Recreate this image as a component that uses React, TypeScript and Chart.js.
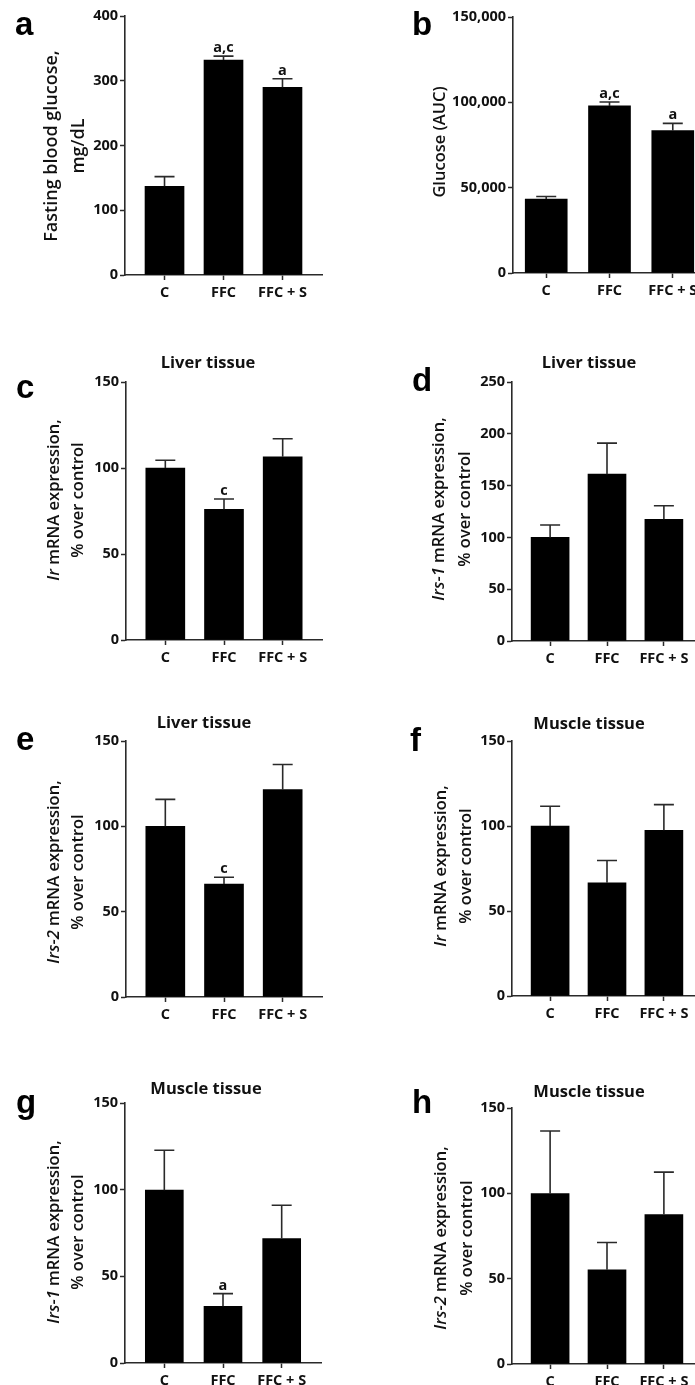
import React, { useEffect, useRef } from 'react';
import { Chart, registerables } from 'chart.js';

Chart.register(...registerables);

// ---------- data ----------
const categories = ['C', 'FFC', 'FFC + S'];

const aValues = [137, 332, 290];
const aErrors = [15, 6, 13];
const aNotes = ['', 'a,c', 'a'];

const bValues = [43300, 97900, 83400];
const bErrors = [1500, 2300, 4300];
const bNotes = ['', 'a,c', 'a'];

const cValues = [100, 76, 106.5];
const cErrors = [4.5, 6, 10.5];
const cNotes = ['', 'c', ''];

const dValues = [100, 161, 117.5];
const dErrors = [12, 30, 13];
const dNotes = ['', '', ''];

const eValues = [100, 66.2, 121.5];
const eErrors = [15.8, 4, 14.7];
const eNotes = ['', 'c', ''];

const fValues = [100, 66.6, 97.5];
const fErrors = [11.6, 13.1, 15.1];
const fNotes = ['', '', ''];

const gValues = [99.7, 32.7, 71.8];
const gErrors = [23, 7.3, 19.2];
const gNotes = ['', 'a', ''];

const hValues = [99.8, 55.2, 87.6];
const hErrors = [36.7, 16, 24.8];
const hNotes = ['', '', ''];

// ---------- layout / style ----------
type Seg = { t: string; i?: boolean };
interface PanelSpec {
  letter: string;
  letterX: number;
  letterY: number;
  title?: string;
  titleX?: number;
  titleY?: number;
  yTitle: Seg[][];
  yTitleX: number[];
  yTitleY: number;
  yTitleSize: number;
  values: number[];
  errors: number[];
  notes: string[];
  yMax: number;
  yStep: number;
  comma?: boolean;
  canvas: { x: number; y: number; w: number; h: number };
  area: { l: number; t: number; r: number; b: number };
  xMin: number;
  xMax: number;
  barW: number;
}

const exprLine2: Seg[] = [{ t: '% over control' }];

const panels: PanelSpec[] = [
  {
    letter: 'a', letterX: 15, letterY: 35,
    yTitle: [[{ t: 'Fasting blood glucose,' }], [{ t: 'mg/dL' }]],
    yTitleX: [52, 79], yTitleY: 146, yTitleSize: 18,
    values: aValues, errors: aErrors, notes: aNotes,
    yMax: 400, yStep: 100,
    canvas: { x: 0, y: 0, w: 347, h: 320 },
    area: { l: 125, t: 16, r: 322, b: 275 },
    xMin: 0.33, xMax: 3.67, barW: 39,
  },
  {
    letter: 'b', letterX: 412, letterY: 35,
    yTitle: [[{ t: 'Glucose (AUC)' }]],
    yTitleX: [440], yTitleY: 142, yTitleSize: 16.5,
    values: bValues, errors: bErrors, notes: bNotes,
    yMax: 150000, yStep: 50000, comma: true,
    canvas: { x: 347, y: 0, w: 365, h: 320 },
    area: { l: 513, t: 17, r: 706, b: 273 },
    xMin: 0.475, xMax: 3.525, barW: 42,
  },
  {
    letter: 'c', letterX: 16, letterY: 398,
    title: 'Liver tissue', titleX: 208, titleY: 368,
    yTitle: [[{ t: 'Ir', i: true }, { t: ' mRNA expression,' }], exprLine2],
    yTitleX: [54, 78], yTitleY: 500, yTitleSize: 16.5,
    values: cValues, errors: cErrors, notes: cNotes,
    yMax: 150, yStep: 50,
    canvas: { x: 0, y: 320, w: 347, h: 360 },
    area: { l: 126, t: 382, r: 322, b: 640 },
    xMin: 0.33, xMax: 3.67, barW: 39,
  },
  {
    letter: 'd', letterX: 412, letterY: 391,
    title: 'Liver tissue', titleX: 589, titleY: 368,
    yTitle: [[{ t: 'Irs-1', i: true }, { t: ' mRNA expression,' }], exprLine2],
    yTitleX: [439, 465], yTitleY: 509, yTitleSize: 16.5,
    values: dValues, errors: dErrors, notes: dNotes,
    yMax: 250, yStep: 50,
    canvas: { x: 347, y: 320, w: 365, h: 360 },
    area: { l: 512, t: 382, r: 702, b: 641 },
    xMin: 0.33, xMax: 3.67, barW: 38,
  },
  {
    letter: 'e', letterX: 16, letterY: 750,
    title: 'Liver tissue', titleX: 204, titleY: 728,
    yTitle: [[{ t: 'Irs-2', i: true }, { t: ' mRNA expression,' }], exprLine2],
    yTitleX: [54, 78], yTitleY: 872, yTitleSize: 16.5,
    values: eValues, errors: eErrors, notes: eNotes,
    yMax: 150, yStep: 50,
    canvas: { x: 0, y: 680, w: 347, h: 360 },
    area: { l: 126, t: 741, r: 322, b: 997 },
    xMin: 0.33, xMax: 3.67, barW: 39,
  },
  {
    letter: 'f', letterX: 410, letterY: 751,
    title: 'Muscle tissue', titleX: 589, titleY: 729,
    yTitle: [[{ t: 'Ir', i: true }, { t: ' mRNA expression,' }], exprLine2],
    yTitleX: [441, 466], yTitleY: 866, yTitleSize: 16.5,
    values: fValues, errors: fErrors, notes: fNotes,
    yMax: 150, yStep: 50,
    canvas: { x: 347, y: 680, w: 365, h: 360 },
    area: { l: 512, t: 741, r: 702, b: 996 },
    xMin: 0.33, xMax: 3.67, barW: 38,
  },
  {
    letter: 'g', letterX: 16, letterY: 1113,
    title: 'Muscle tissue', titleX: 206, titleY: 1094,
    yTitle: [[{ t: 'Irs-1', i: true }, { t: ' mRNA expression,' }], exprLine2],
    yTitleX: [54, 78], yTitleY: 1232, yTitleSize: 16.5,
    values: gValues, errors: gErrors, notes: gNotes,
    yMax: 150, yStep: 50,
    canvas: { x: 0, y: 1040, w: 347, h: 360 },
    area: { l: 125, t: 1103, r: 321, b: 1363 },
    xMin: 0.33, xMax: 3.67, barW: 38,
  },
  {
    letter: 'h', letterX: 412, letterY: 1113,
    title: 'Muscle tissue', titleX: 589, titleY: 1097,
    yTitle: [[{ t: 'Irs-2', i: true }, { t: ' mRNA expression,' }], exprLine2],
    yTitleX: [441, 467], yTitleY: 1238, yTitleSize: 16.5,
    values: hValues, errors: hErrors, notes: hNotes,
    yMax: 150, yStep: 50,
    canvas: { x: 347, y: 1040, w: 365, h: 360 },
    area: { l: 512, t: 1108, r: 702, b: 1364 },
    xMin: 0.33, xMax: 3.67, barW: 38,
  },
];

const FONT = '"Open Sans", "Noto Sans", sans-serif';
const TEXT = '#111';
const AXIS = '#2a2a2a';
const YW = 70;
const XH = 30;
const CAP = 20;

function Panel({ spec }: { spec: PanelSpec }) {
  const ref = useRef<HTMLCanvasElement>(null);

  useEffect(() => {
    const s = spec;
    const ox = s.canvas.x;
    const oy = s.canvas.y;

    const decor = {
      id: 'decor',
      afterDatasetsDraw(chart: any) {
        const ctx: CanvasRenderingContext2D = chart.ctx;
        const meta = chart.getDatasetMeta(0);
        const ys = chart.scales.y;
        ctx.save();
        // error bars + annotations
        ctx.strokeStyle = AXIS;
        ctx.lineWidth = 1.6;
        meta.data.forEach((bar: any, i: number) => {
          const x = bar.x;
          const top = ys.getPixelForValue(s.values[i]);
          const et = ys.getPixelForValue(s.values[i] + s.errors[i]);
          ctx.beginPath();
          ctx.moveTo(x, top);
          ctx.lineTo(x, et);
          ctx.moveTo(x - CAP / 2, et);
          ctx.lineTo(x + CAP / 2, et);
          ctx.stroke();
          if (s.notes[i]) {
            ctx.fillStyle = TEXT;
            ctx.font = `bold 14.5px ${FONT}`;
            ctx.textAlign = 'center';
            ctx.textBaseline = 'alphabetic';
            ctx.fillText(s.notes[i], x, et - 4);
          }
        });
        // panel letter
        ctx.fillStyle = '#000';
        ctx.font = 'bold 33px "Liberation Sans", Arial, sans-serif';
        ctx.textAlign = 'left';
        ctx.textBaseline = 'alphabetic';
        ctx.fillText(s.letter, s.letterX - ox, s.letterY - oy);
        // title
        if (s.title) {
          ctx.fillStyle = TEXT;
          ctx.font = `bold 16.5px ${FONT}`;
          ctx.textAlign = 'center';
          ctx.fillText(s.title, (s.titleX as number) - ox, (s.titleY as number) - oy);
        }
        // y titles
        s.yTitle.forEach((line, li) => {
          const fontFor = (seg: Seg) =>
            `${seg.i ? 'italic ' : ''}600 ${s.yTitleSize}px ${FONT}`;
          let total = 0;
          line.forEach((seg) => {
            ctx.font = fontFor(seg);
            total += ctx.measureText(seg.t).width;
          });
          ctx.save();
          ctx.translate(s.yTitleX[li] - ox, s.yTitleY - oy);
          ctx.rotate(-Math.PI / 2);
          ctx.textAlign = 'left';
          ctx.textBaseline = 'middle';
          ctx.fillStyle = TEXT;
          let cx = -total / 2;
          line.forEach((seg) => {
            ctx.font = fontFor(seg);
            ctx.fillText(seg.t, cx, 0);
            cx += ctx.measureText(seg.t).width;
          });
          ctx.restore();
        });
        ctx.restore();
      },
    };

    const tickFont = { family: FONT, size: 14.5, weight: 'bold' as const };
    const grid = {
      display: true,
      drawOnChartArea: false,
      drawTicks: true,
      tickLength: 5,
      tickColor: AXIS,
      tickWidth: 1.5,
      offset: false,
    };
    const border = { display: true, color: AXIS, width: 1.6 };

    const chart = new Chart(ref.current as HTMLCanvasElement, {
      type: 'bar',
      data: {
        datasets: [
          {
            data: s.values.map((v, i) => ({ x: i + 1, y: v })),
            backgroundColor: '#000',
            borderColor: '#000',
            borderWidth: 0,
            barThickness: s.barW,
          },
        ],
      },
      options: {
        animation: false,
        responsive: false,
        maintainAspectRatio: false,
        devicePixelRatio: 1,
        layout: {
          padding: {
            left: s.area.l - ox - YW,
            top: s.area.t - oy,
            right: ox + s.canvas.w - s.area.r,
            bottom: oy + s.canvas.h - s.area.b - XH,
          },
        },
        plugins: {
          legend: { display: false },
          tooltip: { enabled: false },
          title: { display: false },
        },
        scales: {
          x: {
            type: 'linear',
            min: s.xMin,
            max: s.xMax,
            offset: false,
            afterFit: (sc: any) => {
              sc.height = XH;
            },
            afterBuildTicks: (sc: any) => {
              sc.ticks = categories.map((_, i) => ({ value: i + 1 }));
            },
            ticks: {
              autoSkip: false,
              maxRotation: 0,
              minRotation: 0,
              font: tickFont,
              color: TEXT,
              padding: 4,
              callback: (v: any) => categories[Math.round(Number(v)) - 1] ?? '',
            },
            grid,
            border,
          },
          y: {
            type: 'linear',
            min: 0,
            max: s.yMax,
            afterFit: (sc: any) => {
              sc.width = YW;
            },
            ticks: {
              stepSize: s.yStep,
              font: tickFont,
              color: TEXT,
              padding: 2,
              callback: (v: any) =>
                s.comma ? Number(v).toLocaleString('en-US') : String(v),
            },
            grid,
            border,
          },
        },
      } as any,
      plugins: [decor],
    });
    return () => chart.destroy();
  }, [spec]);

  return (
    <canvas
      ref={ref}
      width={spec.canvas.w}
      height={spec.canvas.h}
      style={{
        position: 'absolute',
        left: spec.canvas.x,
        top: spec.canvas.y,
        width: spec.canvas.w,
        height: spec.canvas.h,
      }}
    />
  );
}

export default function App() {
  return (
    <div
      style={{
        position: 'absolute',
        left: 0,
        top: 0,
        width: 695,
        height: 1385,
        overflow: 'hidden',
        background: '#fff',
      }}
    >
      {panels.map((p) => (
        <Panel key={p.letter} spec={p} />
      ))}
    </div>
  );
}
